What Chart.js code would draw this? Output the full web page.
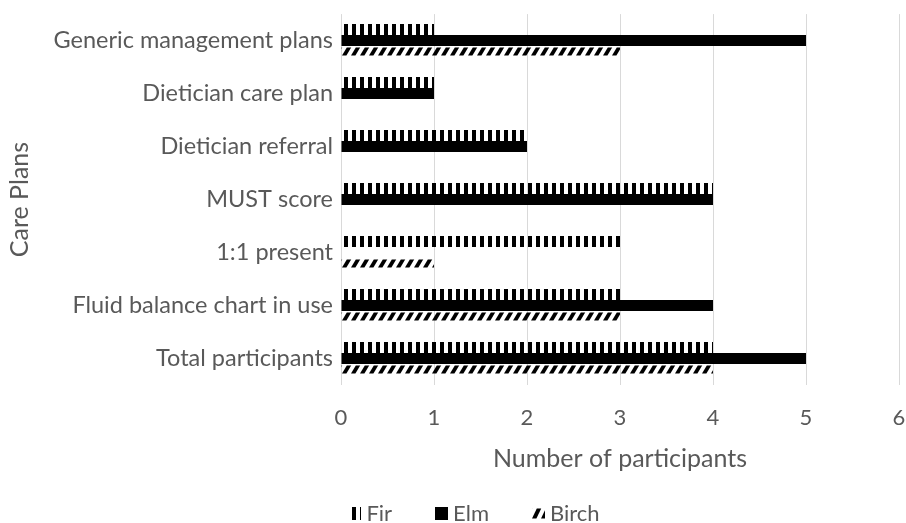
<!DOCTYPE html>
<html>
<head>
<meta charset="utf-8">
<script src="https://cdn.jsdelivr.net/npm/chart.js@4"></script>
<style>
  html, body { margin: 0; padding: 0; background: #ffffff; }
  #wrap { width: 906px; height: 523px; }
</style>
</head>
<body>
<div id="wrap"><canvas id="chart" width="906" height="523"></canvas></div>
<script>
// Care plan counts per ward
const categories = [
  'Generic management plans',
  'Dietician care plan',
  'Dietician referral',
  'MUST score',
  '1:1 present',
  'Fluid balance chart in use',
  'Total participants'
];
const seriesNames = ['Fir', 'Elm', 'Birch'];
const firValues   = [1, 1, 2, 4, 3, 3, 4];
const elmValues   = [5, 1, 2, 4, 0, 4, 5];
const birchValues = [3, 0, 0, 0, 1, 3, 4];
const xTickValues = [0, 1, 2, 3, 4, 5, 6];

const FONT = 'Lato';
const TEXT = '#595959';
const GRID = '#d9d9d9';

// Plot frame: 7 rows of 53px, bars 11px thick
const PLOT_TOP = 14;
const ROW = 53;
const PLOT_BOTTOM = PLOT_TOP + ROW * categories.length;
const BAR = 11;

// Hatch fills
function verticalStripes() {
  const t = document.createElement('canvas');
  t.width = 8; t.height = 8;
  const g = t.getContext('2d');
  g.fillStyle = '#000';
  g.fillRect(0, 0, 4, 8);
  return t;
}
// One row of slanted dashes per tile, so every bar shows the same slice
function slashTile(w, h, band) {
  const t = document.createElement('canvas');
  t.width = w; t.height = h;
  const g = t.getContext('2d');
  g.fillStyle = '#000';
  const top = 1.5, bot = band - 1.5;
  for (const k of [-w, 0, w]) {
    g.beginPath();
    g.moveTo(k, bot);
    g.lineTo(k + 4.4, bot);
    g.lineTo(k + 9.2, top);
    g.lineTo(k + 4.8, top);
    g.closePath();
    g.fill();
  }
  return t;
}

const canvas = document.getElementById('chart');
const ctx = canvas.getContext('2d');
const firFill = ctx.createPattern(verticalStripes(), 'repeat');
const elmFill = '#000000';
const birchFill = ctx.createPattern(slashTile(9, ROW, BAR), 'repeat');
// third bar of each row starts BAR/2 below the row centre
const birchTop = PLOT_TOP + ROW / 2 + BAR / 2;
birchFill.setTransform(new DOMMatrix().translate(0, birchTop));
const birchKey = ctx.createPattern(slashTile(9, 13, 13), 'repeat');

// Legend row under the axis title
const bottomLegend = {
  id: 'bottomLegend',
  afterDraw(chart) {
    const c = chart.ctx;
    const y = 513;
    const box = 13;
    const gap = 5;
    const itemGap = 43;
    c.save();
    c.font = '22px ' + FONT;
    c.textBaseline = 'middle';
    const items = chart.data.datasets.map(ds => ({
      text: ds.label, fill: ds.keyFill || ds.backgroundColor,
      w: box + gap + c.measureText(ds.label).width
    }));
    const total = items.reduce((s, it) => s + it.w, 0) + itemGap * (items.length - 1);
    let x = 474 - total / 2;
    items.forEach(it => {
      if (it.fill === birchKey) {
        birchKey.setTransform(new DOMMatrix().translate(Math.round(x), Math.round(y - box / 2)));
      }
      c.fillStyle = it.fill;
      c.fillRect(Math.round(x), Math.round(y - box / 2), box, box);
      c.fillStyle = TEXT;
      c.fillText(it.text, x + box + gap, y + 1);
      x += it.w + itemGap;
    });
    c.restore();
  }
};

new Chart(ctx, {
  type: 'bar',
  data: {
    labels: categories,
    datasets: [
      { label: seriesNames[0], data: firValues,   backgroundColor: firFill },
      { label: seriesNames[1], data: elmValues,   backgroundColor: elmFill },
      { label: seriesNames[2], data: birchValues, backgroundColor: birchFill, keyFill: birchKey }
    ]
  },
  options: {
    indexAxis: 'y',
    responsive: false,
    animation: false,
    events: [],
    datasets: { bar: { categoryPercentage: (3 * BAR) / ROW, barPercentage: 1.0, borderWidth: 0 } },
    layout: { padding: { top: PLOT_TOP, right: 7, left: 0, bottom: 43 } },
    plugins: {
      legend: { display: false },
      tooltip: { enabled: false }
    },
    scales: {
      x: {
        min: 0,
        max: 6,
        afterBuildTicks(scale) { scale.ticks = xTickValues.map(v => ({ value: v })); },
        ticks: { color: TEXT, font: { family: FONT, size: 22 }, padding: 20 },
        grid: { color: GRID, lineWidth: 1, drawTicks: false },
        border: { display: false },
        title: {
          display: true, text: 'Number of participants', color: TEXT,
          font: { family: FONT, size: 25 }, padding: { top: 4, bottom: 6 }
        },
        afterFit(scale) {
          scale.height = 523 - 43 - PLOT_BOTTOM;
          scale.paddingLeft = 0;
          scale.paddingRight = 0;
        }
      },
      y: {
        grid: { display: false },
        border: { display: false },
        ticks: { color: TEXT, font: { family: FONT, size: 23.5 }, padding: 0 },
        title: {
          display: true, text: 'Care Plans', color: TEXT,
          font: { family: FONT, size: 25 }, padding: { top: 5, bottom: 0 }
        },
        afterFit(scale) { scale.width = 341; }
      }
    }
  },
  plugins: [bottomLegend]
});
</script>
</body>
</html>
